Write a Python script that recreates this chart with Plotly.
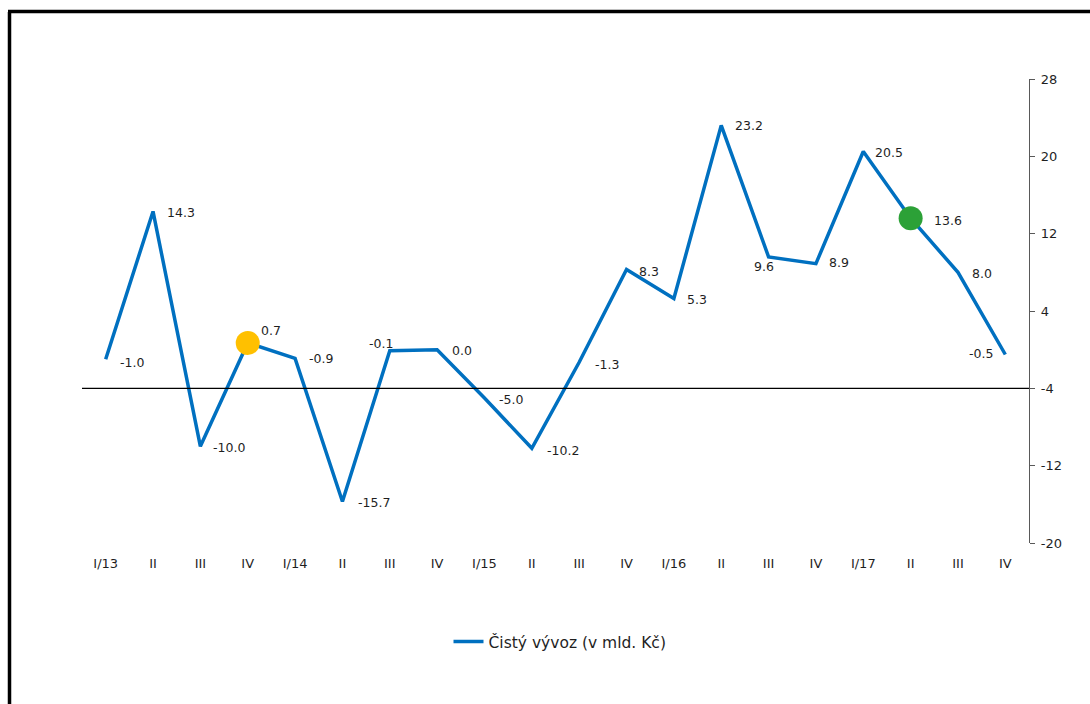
import plotly.graph_objects as go

# Quarterly net exports, bn CZK
quarters = ["I/13", "II", "III", "IV", "I/14", "II", "III", "IV", "I/15", "II",
            "III", "IV", "I/16", "II", "III", "IV", "I/17", "II", "III", "IV"]
net_exports = [-1.0, 14.3, -10.0, 0.7, -0.9, -15.7, -0.1, 0.0, -5.0, -10.2,
               -1.3, 8.3, 5.3, 23.2, 9.6, 8.9, 20.5, 13.6, 8.0, -0.5]
y_ticks = [-20, -12, -4, 4, 12, 20, 28]
highlight_yellow = 3
highlight_green = 17

# label offsets (px) relative to each point
label_dx = [26, 28, 29, 23, 26, 32, -9, 25, 27, 31, 28, 22, 23, 28, -5, 23, 26, 37, 24, -24]
label_dy = [-3, -1, -1, 12, 0, -1, 7, -1, -1, -2, -2, -2, -1, 0, -10, 1, -1, -2, -1, 1]

FONT = "DejaVu Sans, Arial, sans-serif"
TEXT = "#1f1f1f"
BLUE = "#0070C0"

x_idx = list(range(len(quarters)))

fig = go.Figure()
fig.add_trace(go.Scatter(
    x=x_idx, y=net_exports, mode="lines",
    line=dict(color=BLUE, width=3.5),
    name="Čistý vývoz (v mld. Kč)",
))
fig.add_trace(go.Scatter(
    x=[highlight_yellow], y=[net_exports[highlight_yellow]], mode="markers",
    marker=dict(color="#FFC000", size=24), showlegend=False, hoverinfo="skip",
))
fig.add_trace(go.Scatter(
    x=[highlight_green], y=[net_exports[highlight_green]], mode="markers",
    marker=dict(color="#2CA137", size=24), showlegend=False, hoverinfo="skip",
))

for i, v in enumerate(net_exports):
    fig.add_annotation(
        x=i, y=v, text=f"{v:.1f}", showarrow=False,
        xshift=label_dx[i], yshift=label_dy[i],
        font=dict(family=FONT, size=12.5, color=TEXT),
    )

# horizontal axis line at -4
fig.add_shape(type="line", xref="paper", yref="y", x0=0, x1=1, y0=-4, y1=-4,
              line=dict(color="black", width=1.3))

# outer frame (left and top edges)
PW, PH, L, T = 947, 464, 82, 79
def px(xp):
    return (xp - L) / PW
def py(yp):
    return (T + PH - yp) / PH
fig.add_shape(type="line", xref="paper", yref="paper",
              x0=px(9.5), x1=px(9.5), y0=py(12), y1=py(720),
              line=dict(color="black", width=3.5))
fig.add_shape(type="line", xref="paper", yref="paper",
              x0=px(8), x1=px(1110), y0=py(11.5), y1=py(11.5),
              line=dict(color="black", width=3.5))

fig.update_layout(
    width=1090, height=704,
    margin=dict(l=L, r=1090 - L - PW, t=T, b=704 - T - PH, pad=0),
    paper_bgcolor="white", plot_bgcolor="white",
    font=dict(family=FONT, size=13, color=TEXT),
    xaxis=dict(
        range=[-0.5, len(quarters) - 0.5],
        tickmode="array", tickvals=x_idx, ticktext=quarters,
        showgrid=False, zeroline=False, showline=False, ticks="",
        ticklabelstandoff=11,
        tickfont=dict(family=FONT, size=13, color=TEXT),
    ),
    yaxis=dict(
        side="right", range=[-20, 28],
        tickmode="array", tickvals=y_ticks, ticktext=[str(t) for t in y_ticks],
        showgrid=False, zeroline=False,
        showline=True, linecolor="#595959", linewidth=1.3,
        ticks="outside", ticklen=5, tickcolor="#595959", tickwidth=1.3,
        ticklabelstandoff=3,
        tickfont=dict(family=FONT, size=13, color=TEXT),
    ),
    legend=dict(
        orientation="h", x=px(560), xanchor="center", y=py(642), yanchor="middle",
        font=dict(family=FONT, size=15.5, color=TEXT),
        itemwidth=30,
    ),
    showlegend=True,
)

fig.write_html("out.html")
